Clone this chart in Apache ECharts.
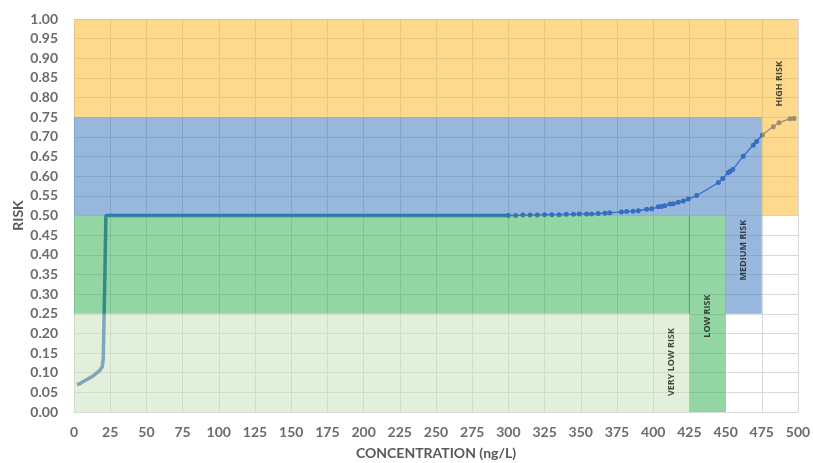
<!DOCTYPE html>
<html>
<head>
<meta charset="utf-8">
<script src="https://cdn.jsdelivr.net/npm/echarts@6/dist/echarts.min.js"></script>
<style>html,body{margin:0;padding:0;background:#fff;}#c{width:813px;height:463px;}</style>
</head>
<body>
<div id="c"></div>
<script>
// ---- data ----
const xTicks = [0, 500, 25];           // min, max, interval
const yTicks = [0, 1, 0.05];
// risk curve, steep part + plateau (concentration, risk)
const curveConc = [2, 4, 7, 10, 13, 16, 18, 19.5, 20.2, 20.7, 21.3, 21.8, 22, 60, 120, 180, 240, 300];
const curveRisk = [0.070, 0.072, 0.079, 0.085, 0.091, 0.100, 0.107, 0.115, 0.135, 0.23, 0.34, 0.45, 0.500, 0.500, 0.500, 0.500, 0.500, 0.500];
// risk curve, measured points in upper range
const pointConc = [300, 305, 310, 315, 320, 325, 330, 335, 340, 345, 349, 354, 357.5, 362, 366.7, 370, 378, 381.7, 386, 389.7, 395.5, 399, 403.5, 405.8, 408, 411.6, 413.9, 417.3, 420.8, 424.2, 430, 445, 448, 451.8, 453, 454.9, 462.2, 469.1, 471.4, 475.5, 482.9, 486.9, 494.5, 497.2];
const pointRisk = [0.500, 0.500, 0.501, 0.501, 0.501, 0.502, 0.502, 0.502, 0.503, 0.503, 0.504, 0.504, 0.504, 0.505, 0.506, 0.507, 0.509, 0.510, 0.511, 0.512, 0.516, 0.517, 0.522, 0.523, 0.525, 0.529, 0.530, 0.534, 0.537, 0.542, 0.551, 0.584, 0.594, 0.609, 0.612, 0.617, 0.651, 0.679, 0.688, 0.705, 0.726, 0.736, 0.746, 0.747];
// risk zones: [conc from, conc to, risk from, risk to]
const highRisk    = [[0, 500, 0.75, 1.0], [475, 500, 0.5, 0.75]];
const mediumRisk  = [[0, 475, 0.5, 0.75], [450, 475, 0.25, 0.5]];
const lowRisk     = [[0, 450, 0.25, 0.5], [425, 450, 0, 0.25]];
const veryLowRisk = [[0, 425, 0, 0.25]];
const lowRiskEdge = [[425, 0.25], [425, 0.5]];
// zone labels
const zoneNames = ['VERY LOW RISK', 'LOW RISK', 'MEDIUM RISK', 'HIGH RISK'];
const zoneLabelConc = [412.5, 437.5, 462.5, 487.5];
const zoneLabelRisk = [0.127, 0.244, 0.412, 0.835];

// ---- styles ----
const lineColor = '#3A6AC6';
const zoneColors = {
  high: 'rgba(251,179,29,0.5)',
  medium: 'rgba(49,111,187,0.5)',
  low: 'rgba(41,171,73,0.5)',
  veryLow: 'rgba(197,223,181,0.5)'
};
const font = 'Lato, "Open Sans", sans-serif';

function zoneSeries(name, rects, color) {
  return {
    type: 'custom', name: name, z: 4, silent: true,
    data: rects,
    encode: { x: [0, 1], y: [2, 3] },
    renderItem: function (params, api) {
      const p0 = api.coord([api.value(0), api.value(3)]);
      const p1 = api.coord([api.value(1), api.value(2)]);
      return { type: 'rect', shape: { x: p0[0], y: p0[1], width: p1[0] - p0[0], height: p1[1] - p0[1] }, style: { fill: color } };
    }
  };
}

const chart = echarts.init(document.getElementById('c'));
chart.setOption({
  animation: false,
  grid: { left: 74, right: 15, top: 19, bottom: 51, containLabel: false, outerBoundsMode: 'none' },
  xAxis: {
    type: 'value', min: xTicks[0], max: xTicks[1], interval: xTicks[2],
    name: 'CONCENTRATION (ng/L)', nameLocation: 'middle', nameGap: 34,
    nameTextStyle: { fontFamily: font, fontWeight: 'bold', fontSize: 14, color: '#595959' },
    axisLine: { show: true, lineStyle: { color: '#D9D9D9' } },
    axisTick: { show: false },
    axisLabel: { margin: 13, fontFamily: font, fontWeight: 'bold', fontSize: 14, color: '#6b6b6b' },
    splitLine: { show: true, lineStyle: { color: '#D9D9D9', width: 1 } }
  },
  yAxis: {
    type: 'value', min: yTicks[0], max: yTicks[1], interval: yTicks[2],
    name: 'RISK', nameLocation: 'middle', nameGap: 49, nameRotate: 90, nameMoveOverlap: false,
    nameTextStyle: { fontFamily: font, fontWeight: 'bold', fontSize: 14, color: '#595959' },
    axisLine: { show: false },
    axisTick: { show: false },
    axisLabel: { margin: 16, fontFamily: font, fontWeight: 'bold', fontSize: 14, color: '#6b6b6b',
      formatter: v => v.toFixed(2) },
    splitLine: { show: true, lineStyle: { color: '#D9D9D9', width: 1 } }
  },
  series: [
    {
      type: 'line', z: 2, silent: true, showSymbol: false, symbol: 'none',
      data: curveConc.map((c, i) => [c, curveRisk[i]]),
      lineStyle: { color: lineColor, width: 3.5 }
    },
    {
      type: 'line', z: 2, silent: true, smooth: 0.3,
      symbol: 'circle', symbolSize: 5, showSymbol: true,
      data: pointConc.map((c, i) => [c, pointRisk[i]]),
      itemStyle: { color: lineColor },
      lineStyle: { color: lineColor, width: 1.3 }
    },
    zoneSeries('HIGH RISK', highRisk, zoneColors.high),
    zoneSeries('MEDIUM RISK', mediumRisk, zoneColors.medium),
    zoneSeries('LOW RISK', lowRisk, zoneColors.low),
    zoneSeries('VERY LOW RISK', veryLowRisk, zoneColors.veryLow),
    {
      type: 'line', z: 5, silent: true, symbol: 'none',
      data: lowRiskEdge,
      lineStyle: { color: 'rgba(40,150,70,0.6)', width: 1 }
    },
    {
      type: 'scatter', z: 6, silent: true, symbolSize: 0,
      data: zoneNames.map((n, i) => ({ name: n, value: [zoneLabelConc[i], zoneLabelRisk[i]] })),
      label: {
        show: true, position: 'inside', rotate: 90, formatter: p => p.name,
        fontFamily: '"Open Sans", sans-serif', fontWeight: 'bold', fontSize: 9, color: '#1a1a1a'
      }
    }
  ]
});
</script>
</body>
</html>
